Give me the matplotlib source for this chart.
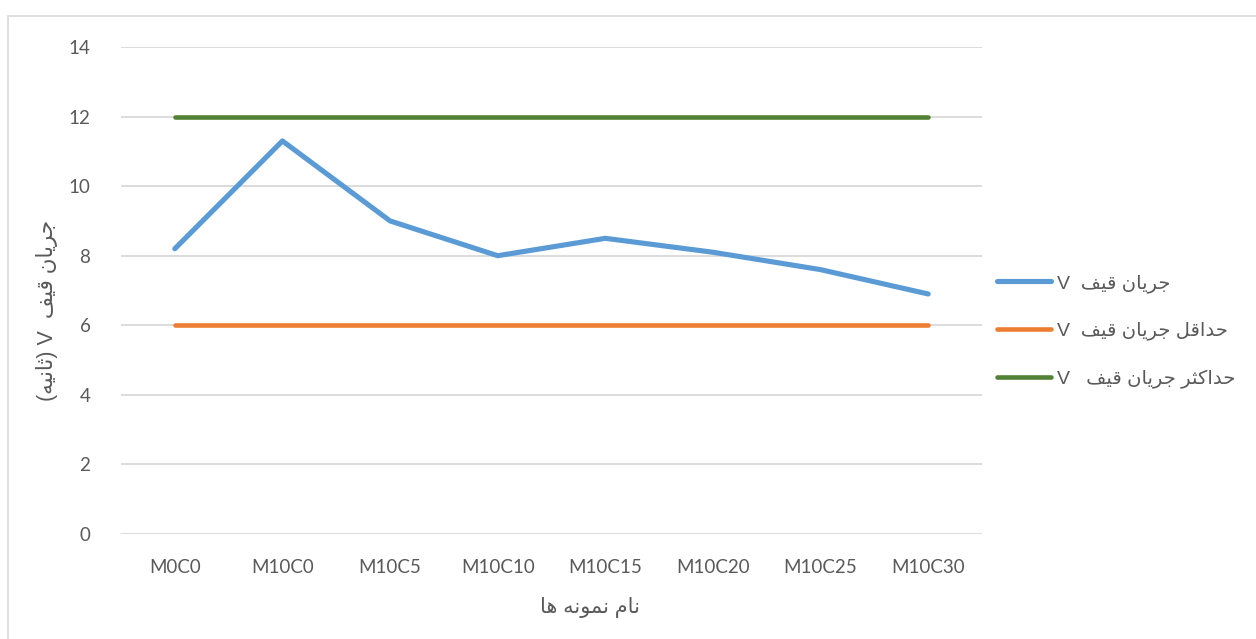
import matplotlib
matplotlib.use("Agg")
import matplotlib.pyplot as plt
from matplotlib.patches import Rectangle

# ---- data -------------------------------------------------------------
categories = ["M0C0", "M10C0", "M10C5", "M10C10", "M10C15", "M10C20", "M10C25", "M10C30"]
flow_v = [8.2, 11.3, 9.0, 8.0, 8.5, 8.1, 7.6, 6.9]
flow_min = [6, 6, 6, 6, 6, 6, 6, 6]
flow_max = [12, 12, 12, 12, 12, 12, 12, 12]
y_ticks = [0, 2, 4, 6, 8, 10, 12, 14]

label_v = "جریان قیف  V"
label_min = "حداقل جریان قیف  V"
label_max = "حداکثر جریان قیف   V"
x_title = "نام نمونه ها"
y_title = "جریان قیف  V (ثانیه)"

# ---- simple Arabic/Persian shaping (presentation forms + RTL order) ----
# dual-joining letters: (isolated, final, initial, medial)
DUAL = {
    "ج": "\uFE9D\uFE9E\uFE9F\uFEA0",
    "ح": "\uFEA1\uFEA2\uFEA3\uFEA4",
    "ی": "\uFBFC\uFBFD\uFBFE\uFBFF",
    "ن": "\uFEE5\uFEE6\uFEE7\uFEE8",
    "ق": "\uFED5\uFED6\uFED7\uFED8",
    "ف": "\uFED1\uFED2\uFED3\uFED4",
    "ل": "\uFEDD\uFEDE\uFEDF\uFEE0",
    "ک": "\uFB8E\uFB8F\uFB90\uFB91",
    "ث": "\uFE99\uFE9A\uFE9B\uFE9C",
    "ه": "\uFEE9\uFEEA\uFEEB\uFEEC",
    "م": "\uFEE1\uFEE2\uFEE3\uFEE4",
}
# right-joining letters: (isolated, final)
RIGHT = {
    "ا": "\uFE8D\uFE8E",
    "ر": "\uFEAD\uFEAE",
    "د": "\uFEA9\uFEAA",
    "و": "\uFEED\uFEEE",
}


def is_arabic(c):
    return c in DUAL or c in RIGHT


def shape(text):
    out = []
    n = len(text)
    for i, c in enumerate(text):
        if not is_arabic(c):
            out.append(c)
            continue
        prev = text[i - 1] if i > 0 else ""
        nxt = text[i + 1] if i + 1 < n else ""
        join_prev = prev in DUAL
        join_next = c in DUAL and is_arabic(nxt)
        if c in RIGHT:
            out.append(RIGHT[c][1] if join_prev else RIGHT[c][0])
        else:
            forms = DUAL[c]
            if join_prev and join_next:
                out.append(forms[3])
            elif join_prev:
                out.append(forms[1])
            elif join_next:
                out.append(forms[2])
            else:
                out.append(forms[0])
    mirror = {"(": ")", ")": "("}
    return "".join(mirror.get(c, c) for c in reversed(out))


# ---- figure -----------------------------------------------------------
text_color = "#595959"
grid_color = "#D9D9D9"
latin_font = ["Lato", "DejaVu Sans"]
arabic_font = ["Liberation Sans", "DejaVu Sans"]

fig = plt.figure(figsize=(12.56, 6.39), dpi=100)
fig.patch.set_facecolor("white")

# chart-area border
fig.patches.append(Rectangle((8 / 1256, -0.05), 1.2, (639 - 16) / 639 + 0.05,
                             transform=fig.transFigure, fill=False,
                             edgecolor=grid_color, linewidth=1.2))

ax = fig.add_axes([121 / 1256, (639 - 534) / 639, (982 - 121) / 1256, (534 - 47) / 639])
x = list(range(len(categories)))

ax.plot(x, flow_v, color="#5B9BD5", linewidth=3.7, solid_capstyle="round",
        solid_joinstyle="round", label=shape(label_v), zorder=3)
ax.plot(x, flow_min, color="#ED7D31", linewidth=3.3, solid_capstyle="round",
        label=shape(label_min), zorder=3)
ax.plot(x, flow_max, color="#548235", linewidth=3.3, solid_capstyle="round",
        label=shape(label_max), zorder=3)

ax.set_xlim(-0.5, len(categories) - 0.5)
ax.set_ylim(0, 14)
ax.set_yticks(y_ticks)
ax.set_xticks(x)
ax.set_xticklabels(categories)
ax.yaxis.grid(True, color=grid_color, linewidth=1.3)
ax.set_axisbelow(True)
for s in ax.spines.values():
    s.set_visible(False)
ax.tick_params(axis="both", length=0, colors=text_color, labelsize=13.5)
ax.tick_params(axis="y", pad=22)
ax.tick_params(axis="x", pad=18)
for lbl in ax.get_xticklabels() + ax.get_yticklabels():
    lbl.set_family(latin_font)

leg = fig.legend(loc="upper left", bbox_to_anchor=(997 / 1256, 1 - 274 / 639),
                 bbox_transform=fig.transFigure, frameon=False,
                 handlelength=2.8, handletextpad=0.3, labelspacing=1.5,
                 borderaxespad=0.0, borderpad=0.0,
                 prop={"family": arabic_font, "size": 14})
for t in leg.get_texts():
    t.set_color(text_color)

fig.text(590 / 1256, 1 - 607 / 639, shape(x_title), ha="center", va="center",
         color=text_color, fontsize=15, family=arabic_font)
fig.text(47 / 1256, 1 - 310 / 639, shape(y_title), ha="center", va="center",
         rotation=90, color=text_color, fontsize=15.5, family=arabic_font)

fig.savefig("out.png", dpi=100, facecolor="white")
